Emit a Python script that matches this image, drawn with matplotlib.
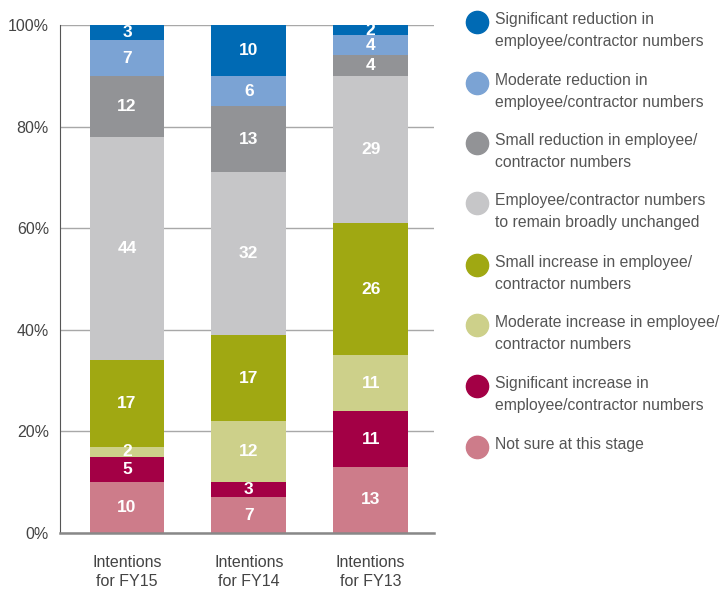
import matplotlib
matplotlib.use('Agg')
import matplotlib.pyplot as plt
from matplotlib.lines import Line2D
import numpy as np

plt.rcParams['font.family'] = ['Liberation Sans', 'DejaVu Sans']

categories = ['Intentions\nfor FY15', 'Intentions\nfor FY14', 'Intentions\nfor FY13']
# series listed bottom to top of the stack
series = [
    'Not sure at this stage',
    'Significant increase in\nemployee/contractor numbers',
    'Moderate increase in employee/\ncontractor numbers',
    'Small increase in employee/\ncontractor numbers',
    'Employee/contractor numbers\nto remain broadly unchanged',
    'Small reduction in employee/\ncontractor numbers',
    'Moderate reduction in\nemployee/contractor numbers',
    'Significant reduction in\nemployee/contractor numbers',
]
not_sure = [10, 7, 13]
sig_inc = [5, 3, 11]
mod_inc = [2, 12, 11]
small_inc = [17, 17, 26]
unchanged = [44, 32, 29]
small_red = [12, 13, 4]
mod_red = [7, 6, 4]
sig_red = [3, 10, 2]
values = [not_sure, sig_inc, mod_inc, small_inc, unchanged, small_red, mod_red, sig_red]
colors = ['#CD7C8A', '#A30045', '#CDD08A', '#A0A812', '#C6C6C8', '#929396', '#7BA3D4', '#006AB4']

fig = plt.figure(figsize=(7.24, 5.93), dpi=100)
ax = fig.add_axes([60 / 724, 60 / 593, 374 / 724, 508 / 593])

x = np.arange(len(categories))
bottom = np.zeros(len(categories))
for vals, col in zip(values, colors):
    v = np.array(vals, dtype=float)
    bars = ax.bar(x, v, 0.615, bottom=bottom, color=col, zorder=2)
    for b, val in zip(bars, v):
        ax.text(b.get_x() + b.get_width() / 2, b.get_y() + val / 2, f'{val:.0f}',
                ha='center', va='center', color='white', fontsize=12.5, fontweight='bold', zorder=3)
    bottom += v

ax.set_xlim(-0.55, 2.52)
ax.set_ylim(0, 100)
ax.set_yticks([0, 20, 40, 60, 80, 100])
ax.set_yticklabels([f'{t}%' for t in [0, 20, 40, 60, 80, 100]])
ax.yaxis.grid(True, color='#A8A8A8', lw=1, zorder=0)
ax.set_xticks(x)
ax.set_xticklabels(categories, fontsize=11.5, color='#444444', linespacing=1.35)
ax.tick_params(axis='x', length=0, pad=16)
ax.tick_params(axis='y', length=0, labelsize=11.5, labelcolor='#444444', pad=8)
for s in ('top', 'right'):
    ax.spines[s].set_visible(False)
ax.spines['left'].set_color('#555555')
ax.spines['bottom'].set_color('#888888')
ax.spines['bottom'].set_linewidth(1.8)

# legend, top entry first
ys = [22, 83, 143, 203, 265, 325, 386, 447]
for lab, col, yp in zip(series[::-1], colors[::-1], ys):
    fy = 1 - yp / 593
    fig.add_artist(Line2D([477 / 724], [fy], marker='o', markersize=16, color=col, lw=0,
                          transform=fig.transFigure))
    fig.text(495 / 724, 1 - (yp - 10) / 593, lab, ha='left', va='top', fontsize=11.3,
             color='#555555', linespacing=1.62)

fig.savefig('out.png', dpi=100)
